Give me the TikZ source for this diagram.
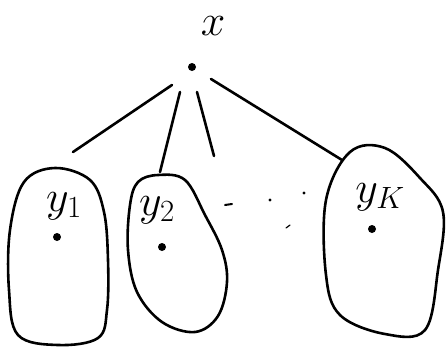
\documentclass[tikz,border=0pt]{standalone}
\usepackage{fix-cm}
\begin{document}
\begin{tikzpicture}[x=1pt,y=-1pt,
  ink/.style={line width=2.6pt,line cap=round,line join=round,black},
  blob/.style={ink},
  pt/.style={circle,fill=black,inner sep=0pt,minimum size=8pt},
  lbl/.style={inner sep=0pt,font=\fontsize{44}{50}\selectfont}]
\useasboundingbox (0,0) rectangle (446,349);
% root
\node[lbl] (xl) at (213,26) {$x$};
\node[pt] (xd) at (192,67) {};
% connector ends
\coordinate (a1) at (172,85);  \coordinate (b1) at (73,152);
\coordinate (a2) at (180,92);  \coordinate (b2) at (160,172);
\coordinate (a3) at (197,92);  \coordinate (b3) at (214,156);
\coordinate (a4) at (211,79);  \coordinate (b4) at (342,160);
\draw[ink] (a1) -- (b1);
\draw[ink] (a2) -- (b2);
\draw[ink] (a3) -- (b3);
\draw[ink] (a4) -- (b4);
% blob 1
\draw[blob] plot[smooth cycle,tension=0.6] coordinates {(55,168) (90,180) (104,212) (108,260) (107,310) (98,338) (58,345) (18,335) (9,290) (10,230) (24,182)};
% blob 2
\draw[blob] plot[smooth cycle,tension=0.6] coordinates {(158,175) (185,180) (205,215) (222,250) (227,282) (218,316) (195,332) (162,322) (137,292) (128,250) (130,205) (138,182)};
% blob k
\draw[blob] plot[smooth cycle,tension=0.6] coordinates {(350,152) (385,148) (420,178) (443,212) (438,270) (425,330) (385,334) (340,315) (326,275) (326,200)};
% labels and points
\node[lbl] (y1) at (64,206) {$y_{1}$};
\node[pt] (p1) at (57,237) {};
\node[lbl] (y2) at (157,210) {$y_{2}$};
\node[pt] (p2) at (162,247) {};
\node[lbl] (yk) at (380,197) {$y_{K}$};
\node[pt] (pk) at (372,229) {};
% ellipsis marks
\draw[line width=2pt,line cap=round] (225,205) -- (232,204);
\fill (270,200) circle (1.6pt);
\fill (304,193) circle (1.6pt);
\draw[line width=1.2pt,line cap=round] (286,228) -- (290,225);
\end{tikzpicture}
\end{document}
